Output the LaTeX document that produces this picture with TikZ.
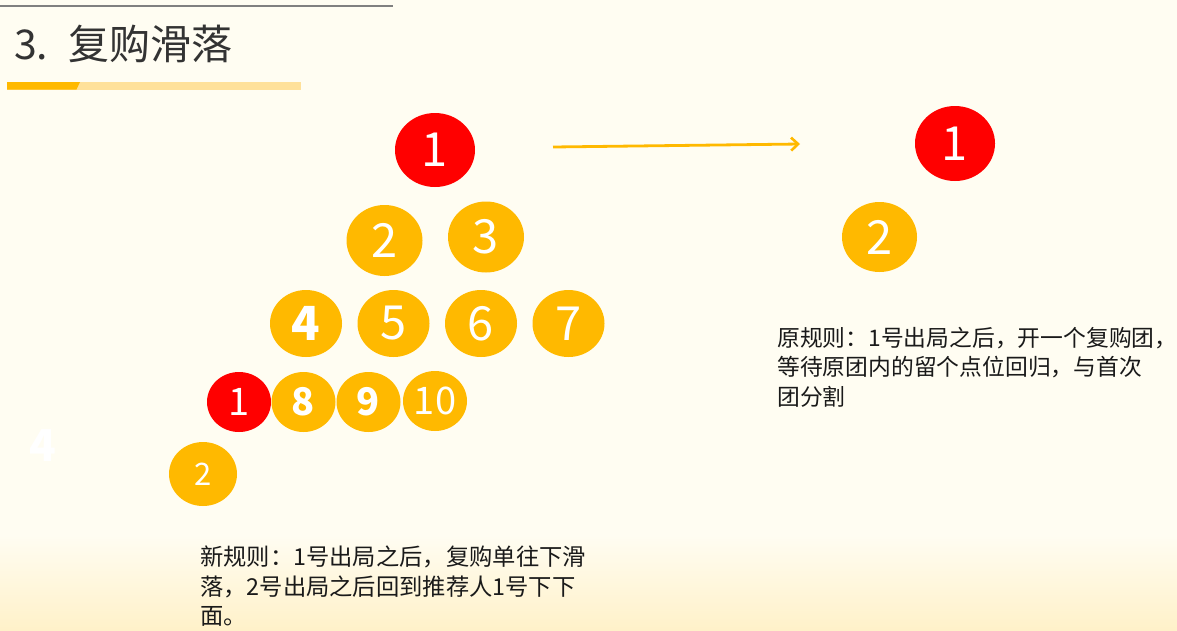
\documentclass[tikz,border=0pt]{standalone}
\usepackage{fontspec}
\setmainfont{Noto Sans CJK SC}
\usetikzlibrary{shapes.geometric,arrows.meta}
\definecolor{bg}{HTML}{FFFDF2}
\definecolor{bgbottom}{HTML}{FFF1C9}
\definecolor{gold}{HTML}{FFB900}
\definecolor{lightgold}{HTML}{FFE19A}
\definecolor{redc}{HTML}{FF0000}
\definecolor{txt}{HTML}{1A1A1A}
\definecolor{titlec}{HTML}{333333}
\definecolor{rulec}{HTML}{808080}
\tikzset{
  ball/.style 2 args={ellipse, fill=gold, draw=none, text=white, inner sep=0pt,
    minimum width=#1, minimum height=#2},
  bigball/.style={ball={76pt}{71pt}, font=\fontsize{47}{47}\selectfont},
  midball/.style={ball={64pt}{60pt}, font=\fontsize{38}{38}\selectfont},
  redball/.style={fill=redc},
  note/.style={anchor=north west, inner sep=0pt, align=left, text=txt,
    font=\fontsize{23.3}{29.5}\selectfont},
  flow/.style={draw=gold, line width=2.8pt, -{Straight Barb[length=7pt,width=13pt,line width=2.6pt]}}
}
\begin{document}
\begin{tikzpicture}[x=1pt,y=-1pt]
\useasboundingbox (0,0) rectangle (1177,630);
\fill[bg] (0,0) rectangle (1177,630);
\shade[top color=bg, bottom color=bgbottom] (0,535) rectangle (1177,630);
% title decorations
\draw[rulec, line width=1.4pt] (0,6) -- (393,6);
\fill[lightgold] (7,82) rectangle (301,89.5);
\fill[gold] (7,82) -- (80,82) -- (76.5,89.5) -- (7,89.5) -- cycle;
\node[anchor=base west, inner sep=0pt, text=titlec, font=\fontsize{41}{41}\selectfont] (title) at (14,59) {3.\hspace{20pt}复购滑落};
% faint number
\node[inner sep=0pt, text=white, font=\fontsize{44}{44}\selectfont\bfseries] (ghost) at (43,446) {4};
% left tree
\node[bigball, redball, minimum width=80pt, minimum height=74pt] (a1) at (435,150) {1};
\node[bigball] (a2) at (384.5,240.5) {2};
\node[bigball] (a3) at (486,237) {3};
\node[bigball, minimum width=72pt, minimum height=67pt] (a4) at (306,323.5) {\bfseries 4};
\node[bigball, minimum width=72pt, minimum height=67pt] (a5) at (393.5,323.5) {5};
\node[bigball, minimum width=72pt, minimum height=67pt] (a6) at (481,323.5) {6};
\node[bigball, minimum width=72pt, minimum height=67pt] (a7) at (568.5,323.5) {7};
\node[midball, redball] (b1) at (239,402) {1};
\node[midball] (b8) at (303.5,402) {\bfseries 8};
\node[midball] (b9) at (368.5,402) {\bfseries 9};
\node[midball] (b10) at (435,401) {10};
\node[ball={68pt}{64pt}, font=\fontsize{31}{31}\selectfont] (b2) at (203,474) {2};
% arrow
\coordinate (arrS) at (553,147);
\coordinate (arrE) at (800,144);
\draw[flow] (arrS) -- (arrE);
% right tree
\node[bigball, redball, minimum width=80pt, minimum height=75pt] (r1) at (955,143.5) {1};
\node[bigball, minimum width=75pt, minimum height=70pt] (r2) at (879.5,237) {2};
% notes
\node[note, font=\fontsize{22.8}{29.5}\selectfont] (oldrule) at (777,327) {原规则：1号出局之后，开一个复购团，\\等待原团内的留个点位回归，与首次\\团分割};
\node[note] (newrule) at (200,546) {新规则：1号出局之后，复购单往下滑\\落，2号出局之后回到推荐人1号下下\\面。};
\end{tikzpicture}
\end{document}
